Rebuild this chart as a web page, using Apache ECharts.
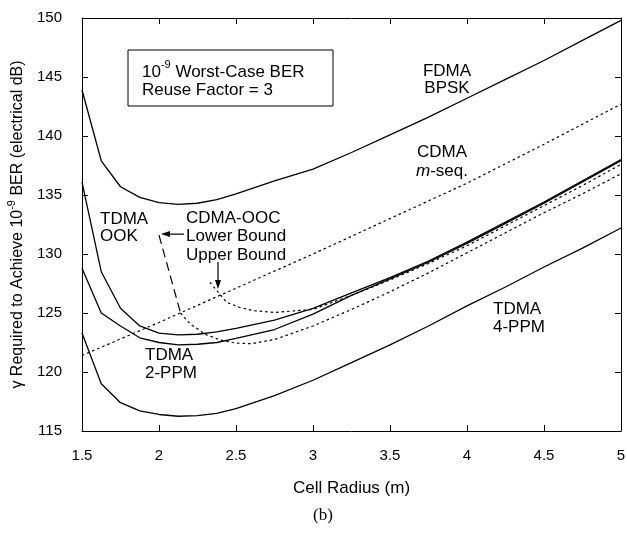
<!DOCTYPE html>
<html><head><meta charset="utf-8">
<script src="https://cdn.jsdelivr.net/npm/echarts@6/dist/echarts.min.js"></script>
<style>html,body{margin:0;padding:0;background:#fff}#c{width:627px;height:533px}</style>
</head><body><div id="c"></div>
<script>
// ---- data ----
const radius = [1.5,1.625,1.75,1.875,2.0,2.125,2.25,2.375,2.5,2.75,3.0,3.25,3.5,3.75,4.0,4.25,4.5,4.75,5.0];
const fdmaBpsk = [143.9,137.9,135.7,134.8,134.35,134.2,134.3,134.6,135.1,136.2,137.2,138.6,140.1,141.6,143.2,144.8,146.4,148.1,149.8];
const tdmaOok  = [136.1,128.5,125.4,123.9,123.3,123.15,123.2,123.4,123.7,124.4,125.4,126.7,128.0,129.4,131.0,132.7,134.4,136.2,138.0];
const tdma2ppm = [128.8,125.0,123.9,122.9,122.5,122.3,122.35,122.5,122.85,123.6,124.9,126.5,127.9,129.3,130.9,132.6,134.3,136.1,137.9];
const tdma4ppm = [123.3,119.0,117.4,116.7,116.4,116.25,116.3,116.5,116.9,118.0,119.3,120.8,122.3,123.9,125.6,127.2,128.9,130.5,132.2];
const mseqRadius = [1.5,2.0,2.5,3.0,3.5,4.0,4.5,5.0];
const cdmaMseq   = [121.4,124.2,127.1,130.0,133.0,136.0,139.3,142.7];
const upperRadius = [2.33,2.44,2.52,2.61,2.75,3.0,3.25,3.5,3.75,4.0,4.25,4.5,4.75,5.0];
const upperBound  = [127.6,125.9,125.5,125.2,125.05,125.3,126.5,127.8,129.2,130.7,132.4,134.1,135.8,137.6];
const lowerDashRadius = [2.0,2.14];
const lowerDash       = [131.6,125.0];
const lowerRadius = [2.14,2.2,2.3,2.4,2.5,2.6,2.75,3.0,3.25,3.5,3.75,4.0,4.25,4.5,4.75,5.0];
const lowerBound  = [125.0,124.1,123.2,122.7,122.45,122.4,122.75,123.9,125.3,126.8,128.4,130.1,131.8,133.5,135.1,136.8];
const xTickLabels = ['1.5','2','2.5','3','3.5','4','4.5','5'];
const yTickLabels = ['115','120','125','130','135','140','145','150'];

const X_MIN = 1.5, X_MAX = 5, X_STEP = 0.5;
const Y_MIN = 115, Y_MAX = 150, Y_STEP = 5;

function pairs(xs, ys){ return xs.map((x,i)=>[x, ys[i]]); }

const chart = echarts.init(document.getElementById('c'), null, {renderer:'canvas'});
const FONT = 'Liberation Sans, Arial, sans-serif';
const solid = {color:'#000', width:1.3, type:'solid'};
const dotted = {color:'#000', width:1.2, type:[2.5,3]};
const dashed = {color:'#000', width:1.2, type:[9,5]};

function lineSeries(name, data, ls){
  return {name, type:'line', data, showSymbol:false, symbol:'none', smooth:false,
          lineStyle:ls, silent:true, animation:false, z:3};
}

const axisCommon = {
  axisLine:{show:true, onZero:false, lineStyle:{color:'#000', width:1}},
  axisTick:{show:true, inside:true, length:6, lineStyle:{color:'#000', width:1}},
  splitLine:{show:false}
};

const option = {
  animation:false,
  backgroundColor:'#fff',
  grid:{left:82, right:6, top:18, bottom:102, containLabel:false, outerBoundsMode:'none'},
  xAxis:[
    Object.assign({type:'value', min:X_MIN, max:X_MAX, interval:X_STEP, position:'bottom',
      name:'Cell Radius (m)', nameLocation:'middle', nameGap:49,
      nameTextStyle:{fontFamily:FONT, fontSize:17, color:'#000'},
      axisLabel:{margin:17, fontFamily:FONT, fontSize:15, color:'#000',
        formatter:v=>xTickLabels[Math.round((v-X_MIN)/X_STEP)]}}, axisCommon),
    Object.assign({type:'value', min:X_MIN, max:X_MAX, interval:X_STEP, position:'top',
      axisLabel:{show:false}}, axisCommon)
  ],
  yAxis:[
    Object.assign({type:'value', min:Y_MIN, max:Y_MAX, interval:Y_STEP, position:'left',
      name:'{n|γ Required to Achieve 10}{s|-9}{n| BER (electrical dB)}',
      nameLocation:'middle', nameGap:51, nameRotate:90,
      nameTextStyle:{fontFamily:FONT, fontSize:16, color:'#000',
        rich:{n:{fontFamily:FONT, fontSize:16, lineHeight:20, verticalAlign:'bottom', color:'#000'},
              s:{fontFamily:FONT, fontSize:11, lineHeight:11, verticalAlign:'top', color:'#000'}}},
      axisLabel:{margin:20, fontFamily:FONT, fontSize:15, color:'#000',
        formatter:v=>yTickLabels[Math.round((v-Y_MIN)/Y_STEP)]}}, axisCommon),
    Object.assign({type:'value', min:Y_MIN, max:Y_MAX, interval:Y_STEP, position:'right',
      axisLabel:{show:false}}, axisCommon)
  ],
  series:[
    lineSeries('FDMA BPSK', pairs(radius, fdmaBpsk), solid),
    lineSeries('TDMA OOK', pairs(radius, tdmaOok), solid),
    lineSeries('TDMA 2-PPM', pairs(radius, tdma2ppm), solid),
    lineSeries('TDMA 4-PPM', pairs(radius, tdma4ppm), solid),
    lineSeries('CDMA m-seq.', pairs(mseqRadius, cdmaMseq), dotted),
    lineSeries('CDMA-OOC Upper Bound', pairs(upperRadius, upperBound), dotted),
    lineSeries('CDMA-OOC Lower Bound (dashed)', pairs(lowerDashRadius, lowerDash), dashed),
    lineSeries('CDMA-OOC Lower Bound', pairs(lowerRadius, lowerBound), dotted)
  ]
};
chart.setOption(option);

// ---- annotations ----
function txt(x, y, text, align, extra){
  return {type:'text', x, y, z:10, silent:true,
    style:Object.assign({text, fontFamily:FONT, fontSize:17, fill:'#000', align:align||'left', verticalAlign:'middle'}, extra||{})};
}
const tipLower = chart.convertToPixel({xAxisIndex:0, yAxisIndex:0}, [lowerDashRadius[0], lowerDash[0]]);
const lt = [tipLower[0]+2, tipLower[1]-1];
const ut = [218, 289];
const graphics = [
  {type:'rect', z:9, silent:true, shape:{x:128, y:50, width:205, height:56}, style:{fill:'#fff', stroke:'#000', lineWidth:1}},
  txt(142, 70, '{n|10}{s|-9}{n| Worst-Case BER}', 'left', {rich:{
      n:{fontFamily:FONT, fontSize:17, lineHeight:22, verticalAlign:'bottom', fill:'#000'},
      s:{fontFamily:FONT, fontSize:11, lineHeight:11, verticalAlign:'top', fill:'#000'}}}),
  txt(142, 90, 'Reuse Factor = 3'),
  txt(447, 71, 'FDMA', 'center'),
  txt(447, 88, 'BPSK', 'center'),
  txt(442, 152, 'CDMA', 'center'),
  txt(442, 171, '{i|m}-seq.', 'center', {rich:{i:{fontFamily:FONT, fontSize:17, fontStyle:'italic', fill:'#000'}}}),
  txt(100, 219, 'TDMA'),
  txt(100, 236, 'OOK'),
  txt(186, 218, 'CDMA-OOC'),
  txt(186, 236, 'Lower Bound'),
  txt(186, 255, 'Upper Bound'),
  txt(145, 355, 'TDMA'),
  txt(145, 373, '2-PPM'),
  txt(493, 309, 'TDMA'),
  txt(493, 327, '4-PPM'),
  txt(323, 516, '(b)', 'center', {fontFamily:'Liberation Serif, Times New Roman, serif', fontSize:17}),
  {type:'line', z:10, silent:true, shape:{x1:184, y1:lt[1], x2:lt[0]+6, y2:lt[1]}, style:{stroke:'#000', lineWidth:1.2}},
  {type:'polygon', z:10, silent:true, shape:{points:[[lt[0],lt[1]],[lt[0]+9,lt[1]-3],[lt[0]+9,lt[1]+3]]}, style:{fill:'#000'}},
  {type:'line', z:10, silent:true, shape:{x1:ut[0], y1:262, x2:ut[0], y2:ut[1]-6}, style:{stroke:'#000', lineWidth:1.2}},
  {type:'polygon', z:10, silent:true, shape:{points:[[ut[0],ut[1]],[ut[0]-3,ut[1]-9],[ut[0]+3,ut[1]-9]]}, style:{fill:'#000'}}
];
chart.setOption({graphic:graphics});
</script>
</body></html>
